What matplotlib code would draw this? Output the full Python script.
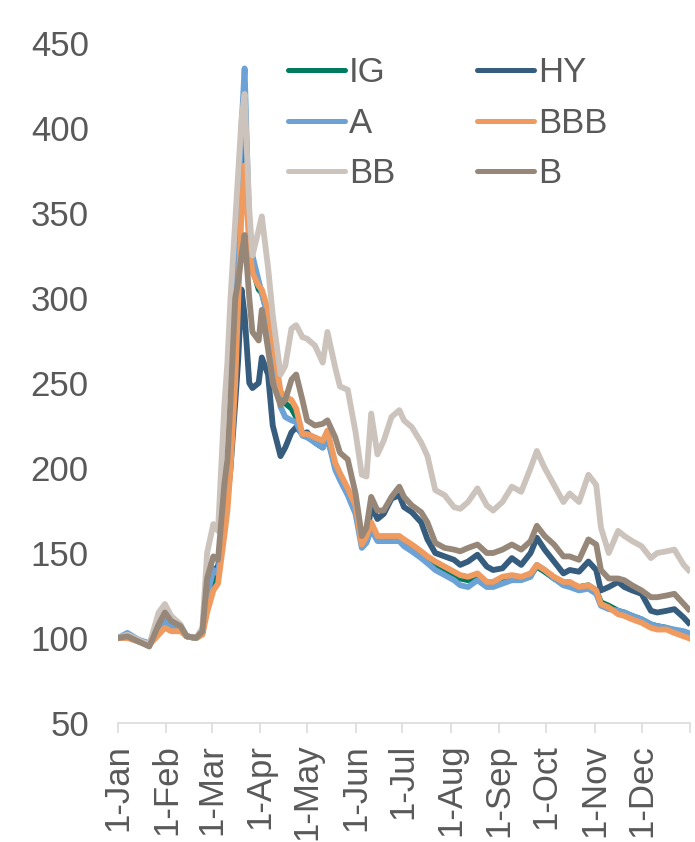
import pandas as pd
import matplotlib
matplotlib.use("Agg")
import matplotlib.pyplot as plt
import matplotlib.dates as mdates

plt.rcParams['font.family'] = ['Liberation Sans', 'DejaVu Sans']

# sample dates (2020) and index values
dates = ['2020-01-01', '2020-01-07', '2020-01-14', '2020-01-21', '2020-01-27', '2020-01-31',
         '2020-02-04', '2020-02-10', '2020-02-14', '2020-02-20', '2020-02-24', '2020-02-27',
         '2020-03-02', '2020-03-05', '2020-03-09', '2020-03-11', '2020-03-13', '2020-03-16',
         '2020-03-18', '2020-03-20', '2020-03-22', '2020-03-25', '2020-03-27', '2020-03-31',
         '2020-04-02', '2020-04-06', '2020-04-09', '2020-04-14', '2020-04-17', '2020-04-21',
         '2020-04-24', '2020-04-28', '2020-05-01', '2020-05-06', '2020-05-11', '2020-05-14',
         '2020-05-19', '2020-05-22', '2020-05-27', '2020-06-01', '2020-06-05', '2020-06-08',
         '2020-06-11', '2020-06-15', '2020-06-19', '2020-06-24', '2020-06-29', '2020-07-02',
         '2020-07-07', '2020-07-13', '2020-07-17', '2020-07-22', '2020-07-28', '2020-08-03',
         '2020-08-07', '2020-08-12', '2020-08-18', '2020-08-24', '2020-08-28', '2020-09-03',
         '2020-09-09', '2020-09-15', '2020-09-21', '2020-09-25', '2020-09-30', '2020-10-06',
         '2020-10-12', '2020-10-16', '2020-10-22', '2020-10-28', '2020-11-02', '2020-11-05',
         '2020-11-10', '2020-11-16', '2020-11-20', '2020-11-25', '2020-12-01', '2020-12-07',
         '2020-12-11', '2020-12-17', '2020-12-22', '2020-12-28', '2020-12-31']

ig = [100, 101, 98, 96, 104, 108, 106, 105, 101, 100, 103, 120,
      133, 136, 165, 180, 210, 265, 315, 370, 400, 335, 318, 305,
      303, 290, 270, 240, 238, 235, 230, 220, 219, 217, 214, 220,
      201, 195, 186, 176, 155, 158, 165, 158, 158, 158, 158, 156,
      153, 149, 146, 143, 140, 137, 135, 134, 136, 132, 132, 134,
      136, 135, 137, 142, 139, 135, 132, 132, 130, 131, 128, 121,
      119, 116, 115, 113, 111, 108, 107, 106, 104, 103, 102]

hy = [100, 102, 99, 96, 104, 108, 107, 106, 101, 100, 103, 125,
      140, 142, 170, 182, 200, 238, 265, 305, 290, 250, 247, 250,
      265, 255, 225, 207, 212, 221, 224, 220, 221, 215, 212, 218,
      201, 195, 185, 175, 157, 157, 178, 170, 173, 182, 184, 177,
      174, 168, 158, 150, 148, 146, 143, 145, 149, 142, 140, 141,
      147, 143, 150, 159, 152, 145, 138, 140, 139, 145, 140, 128,
      130, 133, 130, 128, 126, 116, 115, 116, 117, 112, 109]

a = [100, 103, 99, 97, 106, 110, 107, 106, 101, 100, 104, 125,
     140, 138, 170, 185, 215, 280, 340, 400, 435, 340, 325, 310,
     303, 288, 268, 236, 230, 228, 227, 219, 218, 215, 212, 218,
     199, 193, 184, 173, 153, 156, 164, 157, 157, 157, 157, 154,
     151, 147, 144, 140, 137, 134, 131, 130, 134, 130, 130, 132,
     134, 134, 136, 143, 140, 135, 131, 130, 128, 129, 126, 119,
     117, 116, 115, 113, 111, 108, 107, 106, 105, 104, 103]

bbb = [100, 100, 98, 96, 102, 106, 104, 104, 101, 100, 102, 115,
       128, 132, 160, 175, 200, 250, 300, 350, 378, 330, 315, 307,
       305, 293, 275, 245, 242, 240, 235, 220, 220, 218, 216, 222,
       203, 197, 188, 178, 155, 160, 168, 160, 160, 160, 160, 158,
       155, 151, 148, 145, 142, 139, 137, 136, 138, 133, 133, 136,
       137, 136, 138, 143, 140, 136, 133, 133, 130, 131, 128, 120,
       118, 114, 113, 111, 109, 106, 105, 105, 103, 101, 100]

bb = [100, 102, 99, 96, 115, 120, 113, 108, 101, 100, 106, 150,
      167, 163, 236, 262, 300, 345, 375, 405, 420, 352, 325, 340,
      348, 318, 290, 255, 260, 282, 284, 277, 276, 272, 262, 280,
      259, 248, 246, 221, 196, 195, 232, 208, 216, 230, 234, 228,
      224, 215, 207, 187, 184, 177, 176, 180, 188, 178, 175, 180,
      189, 186, 200, 210, 200, 190, 180, 185, 180, 196, 190, 165,
      150, 163, 160, 157, 154, 147, 150, 151, 152, 143, 140]

b = [100, 101, 98, 95, 108, 115, 110, 107, 101, 100, 104, 135,
     148, 146, 190, 205, 240, 300, 310, 325, 337, 300, 280, 275,
     293, 270, 250, 237, 240, 252, 255, 240, 228, 225, 226, 228,
     218, 209, 205, 185, 160, 165, 183, 175, 175, 183, 189, 183,
     178, 174, 168, 156, 153, 152, 151, 153, 155, 150, 150, 152,
     155, 152, 157, 166, 160, 155, 148, 148, 146, 158, 155, 140,
     135, 135, 134, 131, 128, 124, 124, 125, 126, 120, 117]

series = [('IG', ig, '#007B5F'), ('HY', hy, '#365C7E'), ('A', a, '#6CA2D5'),
          ('BBB', bbb, '#EF9A5E'), ('BB', bb, '#CBC3BC'), ('B', b, '#968779')]

x = pd.to_datetime(dates)

fig = plt.figure(figsize=(6.95, 8.42), dpi=100)
ax = fig.add_axes([0.1698, 0.1413, 0.823, 0.8077])

lines = {}
for name, vals, col in series:
    lines[name], = ax.plot(x, vals, color=col, linewidth=4.2, label=name,
                           solid_joinstyle='round')

ax.set_ylim(50, 450)
ax.set_yticks(range(50, 451, 50))
ax.set_xlim(pd.Timestamp('2020-01-01'), pd.Timestamp('2021-01-01'))
ticks = pd.date_range('2020-01-01', '2021-01-01', freq='MS')
ax.set_xticks(ticks)
ax.set_xticklabels(['1-' + t.strftime('%b') for t in ticks[:-1]] + [''])

for s in ['top', 'right', 'left']:
    ax.spines[s].set_visible(False)
ax.spines['bottom'].set_color('#D9D9D9')
ax.spines['bottom'].set_linewidth(1.1)

ax.tick_params(axis='y', length=0, pad=21, labelsize=25, labelcolor='#595959')
ax.tick_params(axis='x', length=7, width=1.1, color='#D9D9D9', pad=8,
               labelsize=25, labelcolor='#595959', labelrotation=90)

order = ['IG', 'A', 'BB', 'HY', 'BBB', 'B']
leg = ax.legend([lines[n] for n in order], order, ncol=2, frameon=False,
                loc='upper left', bbox_to_anchor=(0.414, 0.933), bbox_transform=fig.transFigure,
                borderpad=0, borderaxespad=0, handlelength=1.65, handletextpad=0.12,
                columnspacing=2.35, labelspacing=0.5, fontsize=25)
for t in leg.get_texts():
    t.set_color('#595959')
for h in leg.get_lines():
    h.set_linewidth(3.6)
    h.set_solid_capstyle('round')

fig.savefig('out.png', dpi=100)
